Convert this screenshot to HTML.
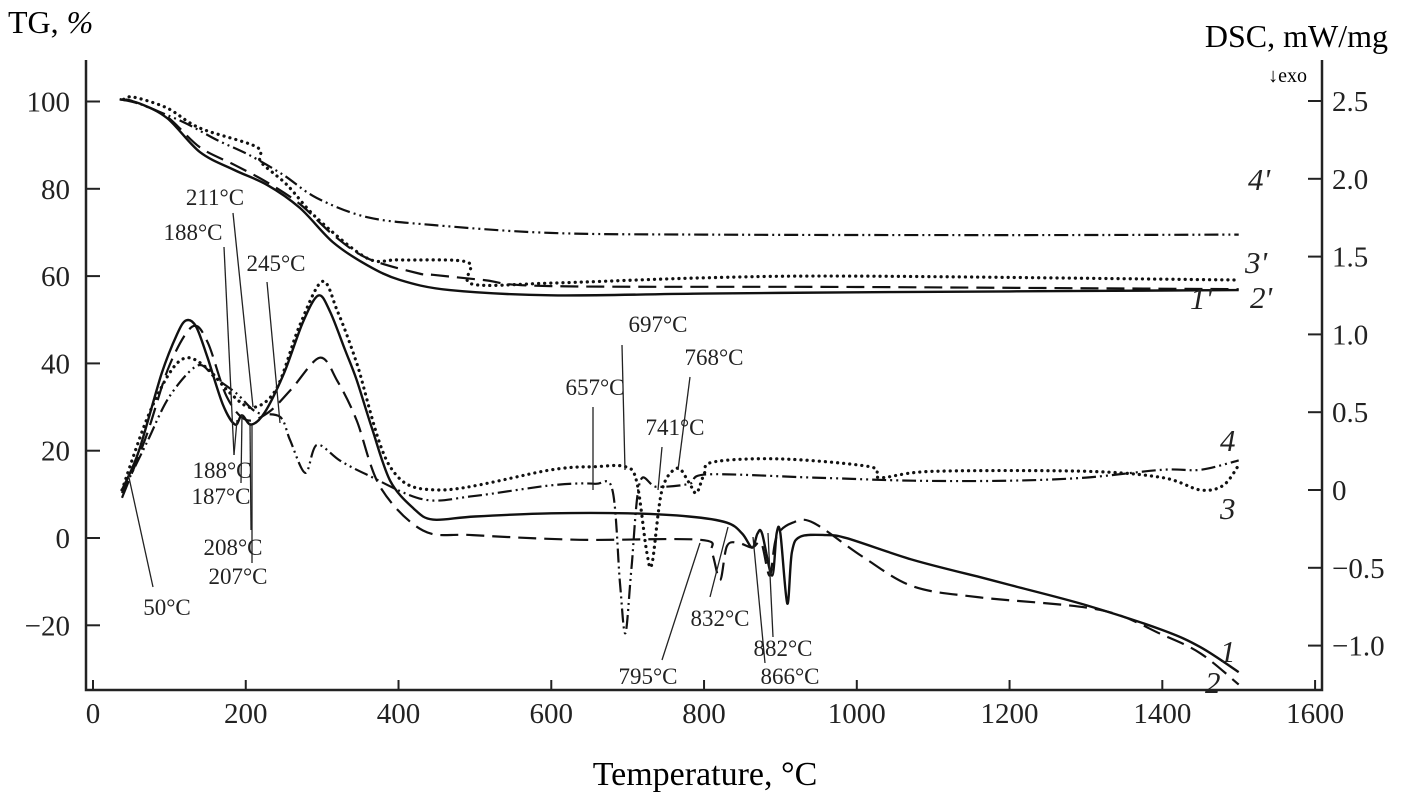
<!DOCTYPE html>
<html><head><meta charset="utf-8">
<style>
html,body{margin:0;padding:0;background:#fff;}
svg{display:block;font-family:"Liberation Serif",serif;}
</style></head>
<body>
<svg id="chart" width="1415" height="805" viewBox="0 0 1415 805">
<g id="axes"></g>
<g id="series"></g>
<g id="annots"></g>
<text x="8" y="33" font-size="32">TG, <tspan font-style="italic">%</tspan></text>
<text x="1388" y="47" font-size="32" text-anchor="end">DSC, mW/mg</text>
<text x="1307" y="82" font-size="20" text-anchor="end">↓exo</text>
<text x="705" y="785" font-size="34" text-anchor="middle">Temperature, °C</text>
</svg>
<script>
const xTicks = [0,200,400,600,800,1000,1200,1400,1600];
const tgTicks = [100,80,60,40,20,0,-20];
const tgTickLabels = ["100","80","60","40","20","0","\u221220"];
const dscTicks = [2.5,2.0,1.5,1.0,0.5,0,-0.5,-1.0];
const dscTickLabels = ["2.5","2.0","1.5","1.0","0.5","0","\u22120.5","\u22121.0"];

const tg1 = [[35,100.5],[60,99.6],[97,96.2],[140,88.4],[185,84.3],[228,80.9],[271,75.6],[314,67.8],[359,62.5],[402,59.1],[467,56.8],[600,55.6],[800,56.0],[1000,56.3],[1200,56.5],[1500,56.8]];
const tg2 = [[35,100.5],[60,99.5],[97,96.5],[140,89.5],[185,85.5],[228,81.5],[271,76.5],[314,69.5],[359,64.1],[424,60.7],[445,60.3],[511,59.1],[600,57.7],[1000,57.5],[1500,57.0]];
const tg3 = [[40,100.5],[53,101],[97,98.5],[140,93.9],[214,89.6],[220,86.1],[254,80.9],[293,73.3],[359,64.1],[402,63.7],[490,63.2],[496,58.2],[600,58.4],[800,59.6],[1000,60.0],[1500,59.1]];
const tg4 = [[40,100.3],[53,100],[118,95.3],[162,91.2],[205,87.7],[249,83.2],[293,77.9],[359,73.5],[445,71.7],[598,69.9],[800,69.5],[1200,69.4],[1500,69.5]];

const dsc1 = [[38,0.0],[60,0.25],[90,0.75],[110,1.0],[122,1.09],[135,1.05],[150,0.85],[170,0.55],[186,0.42],[195,0.48],[207,0.42],[225,0.5],[250,0.75],[275,1.08],[295,1.25],[310,1.15],[330,0.9],[345,0.71],[365,0.4],[389,0.06],[420,-0.12],[445,-0.19],[500,-0.17],[600,-0.15],[700,-0.15],[780,-0.17],[830,-0.21],[850,-0.28],[863,-0.37],[870,-0.28],[876,-0.28],[889,-0.55],[895,-0.28],[900,-0.28],[909,-0.73],[915,-0.4],[926,-0.30],[960,-0.29],[987,-0.31],[1074,-0.45],[1161,-0.56],[1200,-0.61],[1300,-0.74],[1400,-0.9],[1450,-1.01],[1500,-1.17]];
const dsc2 = [[38,-0.05],[70,0.35],[100,0.8],[130,1.05],[150,0.95],[175,0.6],[201,0.45],[230,0.5],[260,0.65],[297,0.85],[320,0.7],[345,0.45],[376,0.02],[432,-0.26],[497,-0.29],[637,-0.32],[795,-0.32],[810,-0.4],[821,-0.58],[830,-0.36],[845,-0.34],[863,-0.37],[875,-0.34],[886,-0.55],[895,-0.3],[916,-0.21],[943,-0.21],[1008,-0.43],[1074,-0.62],[1161,-0.69],[1318,-0.77],[1400,-0.93],[1450,-1.05],[1500,-1.25]];
const dsc3 = [[38,0.0],[70,0.45],[100,0.75],[123,0.85],[150,0.78],[180,0.62],[209,0.53],[240,0.65],[270,1.05],[300,1.34],[320,1.15],[345,0.82],[389,0.15],[454,0.0],[600,0.13],[657,0.15],[697,0.15],[712,0.05],[725,-0.4],[732,-0.47],[745,0.0],[765,0.14],[780,0.05],[790,-0.02],[800,0.1],[812,0.18],[900,0.2],[1017,0.15],[1030,0.08],[1100,0.12],[1300,0.12],[1400,0.08],[1450,0.0],[1480,0.03],[1500,0.16]];
const dsc4 = [[38,-0.02],[70,0.3],[100,0.6],[137,0.8],[160,0.72],[188,0.62],[214,0.5],[245,0.47],[258,0.32],[278,0.11],[293,0.29],[323,0.19],[358,0.10],[432,-0.06],[497,-0.04],[600,0.03],[657,0.04],[680,0.0],[690,-0.6],[697,-0.92],[705,-0.5],[716,0.05],[738,0.02],[781,0.04],[804,0.1],[943,0.08],[1074,0.06],[1200,0.06],[1300,0.08],[1400,0.13],[1450,0.13],[1500,0.19]];

const X0=93, XK=0.7638;
function xs(t){return X0+t*XK;}
function yL(v){return 538-v*4.365;}
function yR(v){return 490-v*155.6;}
const NS="http://www.w3.org/2000/svg";
function mk(tag,attrs,parent){const e=document.createElementNS(NS,tag);for(const k in attrs)e.setAttribute(k,attrs[k]);parent.appendChild(e);return e;}

const axes=document.getElementById('axes');
let e;
e=mk('path',{d:'M86 60 L86 690 L1322 690 L1322 60',fill:'none',stroke:'#222','stroke-width':2.5},axes);


xTicks.forEach((t,i)=>{
  const x=xs(t);
  let l=mk('line',{x1:x,y1:690,x2:x,y2:680,stroke:'#222','stroke-width':2},axes);
  
  
  let tx=mk('text',{x:x,y:723,'font-size':29,'text-anchor':'middle',fill:'#222'},axes);
  tx.textContent=String(t);
  
  
});
tgTicks.forEach((v,i)=>{
  const y=yL(v);
  let l=mk('line',{x1:86,y1:y,x2:100,y2:y,stroke:'#222','stroke-width':2},axes);
  
  
  let tx=mk('text',{x:70,y:y+10,'font-size':29,'text-anchor':'end',fill:'#222'},axes);
  tx.textContent=tgTickLabels[i];
  
  
});
dscTicks.forEach((v,i)=>{
  const y=yR(v);
  let l=mk('line',{x1:1308,y1:y,x2:1322,y2:y,stroke:'#222','stroke-width':2},axes);
  
  
  let tx=mk('text',{x:1332,y:y+10,'font-size':29,fill:'#222'},axes);
  tx.textContent=dscTickLabels[i];
  
  
});

const styles={
  solid:{dash:'',w:2.4,cap:'butt'},
  dash:{dash:'18,8',w:2.2,cap:'butt'},
  dot:{dash:'0.1,6',w:3.2,cap:'round'},
  dd:{dash:'14,4,2,4,2,4',w:2.2,cap:'butt'}
};
const series=document.getElementById('series');
function smoothPath(pts){
  let d='M'+pts[0][0].toFixed(1)+' '+pts[0][1].toFixed(1);
  for(let i=0;i<pts.length-1;i++){
    const p0=pts[i-1]||pts[i], p1=pts[i], p2=pts[i+1], p3=pts[i+2]||p2;
    const k=0.16;
    const c1x=p1[0]+(p2[0]-p0[0])*k, c1y=p1[1]+(p2[1]-p0[1])*k;
    const c2x=p2[0]-(p3[0]-p1[0])*k, c2y=p2[1]-(p3[1]-p1[1])*k;
    d+=' C'+c1x.toFixed(1)+' '+c1y.toFixed(1)+' '+c2x.toFixed(1)+' '+c2y.toFixed(1)+' '+p2[0].toFixed(1)+' '+p2[1].toFixed(1);
  }
  return d;
}
function draw(data,yf,st,name){
  const s=styles[st];
  const pts=data.map(p=>[xs(p[0]),yf(p[1])]);
  const p=mk('path',{d:smoothPath(pts),fill:'none',stroke:'#111','stroke-width':s.w,'stroke-linecap':s.cap,'stroke-linejoin':'round'},series);
  if(s.dash)p.setAttribute('stroke-dasharray',s.dash);
  
  
}
draw(tg1,yL,'solid','tg-curve-1');
draw(tg2,yL,'dash','tg-curve-2');
draw(tg3,yL,'dot','tg-curve-3');
draw(tg4,yL,'dd','tg-curve-4');
draw(dsc1,yR,'solid','dsc-curve-1');
draw(dsc2,yR,'dash','dsc-curve-2');
draw(dsc3,yR,'dot','dsc-curve-3');
draw(dsc4,yR,'dd','dsc-curve-4');

const ann=document.getElementById('annots');
const labels=[
 ["211°C",215,205,[233,213,253,407]],
 ["188°C",193,240,[224,247,234,455]],
 ["245°C",276,271,[267,282,280,423]],
 ["188°C",222,478,[234,455,237,420]],
 ["187°C",221,504,[241,483,242,415]],
 ["208°C",233,555,[251,530,250,423]],
 ["207°C",238,584,[252,563,252,425]],
 ["50°C",167,615,[153,587,128,473]],
 ["697°C",658,332,[622,345,625,470]],
 ["657°C",595,395,[593,407,593,490]],
 ["768°C",714,365,[690,377,678,470]],
 ["741°C",675,435,[662,447,658,490]],
 ["832°C",720,626,[710,597,728,527]],
 ["795°C",648,684,[662,660,700,543]],
 ["882°C",783,656,[765,663,753,537]],
 ["866°C",790,684,[773,637,768,533]]
];
labels.forEach(a=>{
  let t=mk('text',{x:a[1],y:a[2],'font-size':23,'text-anchor':'middle',fill:'#222'},ann);
  t.textContent=a[0];
  
  
  let l=mk('line',{x1:a[3][0],y1:a[3][1],x2:a[3][2],y2:a[3][3],stroke:'#222','stroke-width':1.3},ann);
  
  
});
const curveLabels=[["4'",1248,190],["3'",1245,273],["2'",1250,308],["1'",1190,309],["4",1220,451],["3",1220,519],["1",1220,662],["2",1205,693]];
curveLabels.forEach(c=>{
  let t=mk('text',{x:c[1],y:c[2],'font-size':31,'font-style':'italic',fill:'#222'},ann);
  t.textContent=c[0];
  
  
});
</script>
</body></html>
